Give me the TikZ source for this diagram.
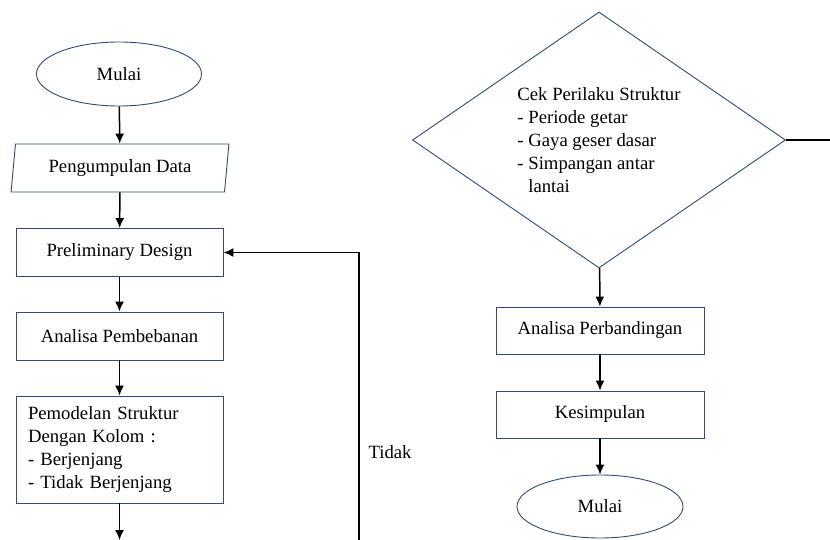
\documentclass[tikz,border=0pt]{standalone}
\usepackage{fontspec}
\setmainfont{Liberation Serif}
\usetikzlibrary{shapes.geometric,arrows.meta}
\definecolor{garis}{HTML}{2F4B73}

\begin{document}
\begin{tikzpicture}[x=1pt,y=-1pt,font=\fontsize{18.7}{23}\selectfont]
		\tikzstyle{terminal}=[ellipse,draw=garis,line width=0.9pt,minimum width=165pt,minimum height=64pt,inner sep=0pt]
		\tikzstyle{proses}=[rectangle,draw=garis,line width=0.9pt,minimum width=207pt,minimum height=48pt,inner sep=0pt]
		\tikzstyle{masukan}=[trapezium,trapezium left angle=80,trapezium right angle=100,trapezium stretches=true,draw=garis,line width=0.9pt,minimum width=218pt,minimum height=48pt,inner sep=0pt]
		\tikzstyle{keputusan}=[diamond,aspect=1.46,draw=garis,line width=0.9pt,minimum width=373pt,minimum height=256pt,inner sep=0pt,align=left]
		\tikzstyle{edge}=[draw, line width=1.5pt, -{Latex[length=10pt,width=9pt]}]
		\useasboundingbox (0,0) rectangle (830,540);
		\begin{scope}
			% kolom kiri
			\node [terminal] (mulai) at (119,74) {Mulai};
			\node [masukan] (data) at (120,168) {Pengumpulan Data};
			\node [proses] (prelim) at (119.5,252.5) {Preliminary Design};
			\node [proses] (beban) at (119.5,336) {Analisa Pembebanan};
			\node [proses,minimum height=107pt,text width=183pt,align=left] (model) at (119.5,449.5) {Pemodelan Struktur\\Dengan Kolom :\\- Berjenjang\\- Tidak Berjenjang};
			\coordinate (bawah) at (119.5,540);
			\coordinate (balik) at (359,540);
			\node [anchor=west] (tidak) at (365,452) {Tidak};
			\path[edge] (mulai) edge (data);
			\path[edge] (data) edge (prelim);
			\path[edge] (prelim) edge (beban);
			\path[edge] (beban) edge (model);
			\path[edge] (model) edge (bawah);
			\draw[line width=1.5pt,-{Latex[length=10pt,width=9pt]}] (balik) |- (prelim.east);
		\end{scope}
		\begin{scope}
			% kolom kanan
			\node [keputusan] (cek) at (599,140) {Cek Perilaku Struktur\\- Periode getar\\- Gaya geser dasar\\- Simpangan antar\\\phantom{- }lantai};
			\coordinate (kanan) at (830,140);
			\node [proses,minimum width=208pt,minimum height=47pt] (banding) at (600,330.5) {Analisa Perbandingan};
			\node [proses,minimum width=208pt,minimum height=47pt] (simpul) at (600,414.5) {Kesimpulan};
			\node [terminal,minimum width=166pt,minimum height=63pt] (selesai) at (600,506.5) {Mulai};
			\draw[line width=1.5pt] (cek.east) -- (kanan);
			\path[edge] (cek) edge (banding);
			\path[edge] (banding) edge (simpul);
			\path[edge] (simpul) edge (selesai);
		\end{scope}
\end{tikzpicture}
\end{document}
